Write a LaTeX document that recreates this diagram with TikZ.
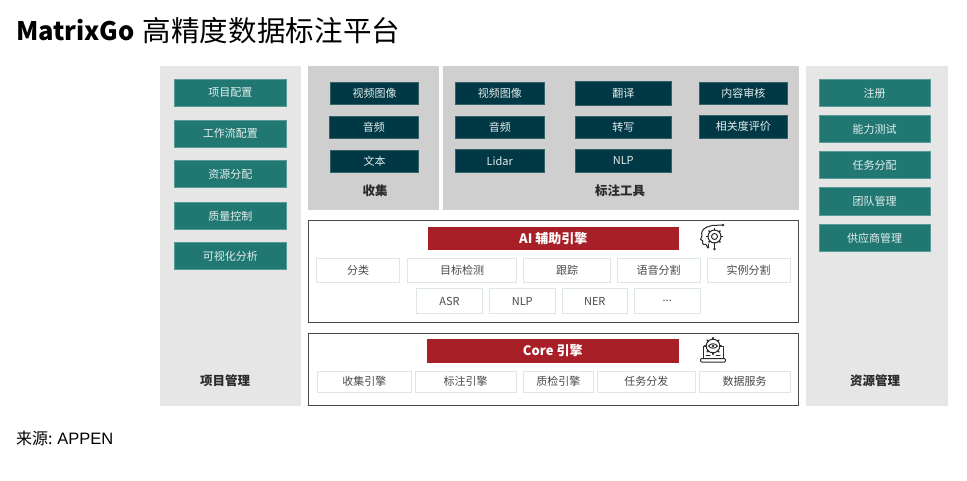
\documentclass[tikz,border=0pt]{standalone}
\usepackage{fontspec}
\setmainfont{Noto Sans CJK SC}
\newfontfamily\titlefont{Noto Sans CJK SC}[LetterSpace=0.5]
\newfontfamily\srcfont{Liberation Sans}
\definecolor{teal1}{HTML}{217873}
\definecolor{navy1}{HTML}{013845}
\definecolor{red1}{HTML}{A81F27}
\definecolor{panelA}{HTML}{E6E6E6}
\definecolor{panelB}{HTML}{CFCFCF}
\definecolor{frame1}{HTML}{4A4A4A}
\definecolor{cell1}{HTML}{DDE8E4}
\definecolor{ink1}{HTML}{2A2A2A}
\definecolor{cellink}{HTML}{4A4A4A}
\definecolor{onteal}{HTML}{E4EEED}
\tikzset{
  x=1pt,y=-1pt,
  boxbase/.style={inner sep=0pt,outer sep=0pt,align=center,font=\fontsize{11}{13}\selectfont},
  tealbox/.style={boxbase,fill=teal1,text=onteal,draw=teal1!75!white,line width=.5pt},
  navybox/.style={boxbase,fill=navy1,text=onteal,draw=navy1!80!white,line width=.5pt},
  redbox/.style={boxbase,fill=red1,text=white,font=\fontsize{13}{15}\selectfont\bfseries},
  cellbox/.style={boxbase,fill=white,draw=cell1,line width=1pt,text=cellink},
  panelL/.style={boxbase,fill=panelA},
  panelD/.style={boxbase,fill=panelB},
  framebox/.style={boxbase,fill=white,draw=frame1,line width=1pt},
  caption1/.style={inner sep=0pt,text=ink1,font=\fontsize{12.5}{14}\selectfont\bfseries},
  iconline/.style={draw=ink1,line width=1pt,fill=none,line cap=round,line join=round},
}
\newcommand{\bx}[7]{\node[#2,minimum width={(#5-#3)*1pt},minimum height={(#6-#4)*1pt}] (#1) at ({(#3+#5)/2},{(#4+#6)/2}) {#7};}
\begin{document}
\begin{tikzpicture}
\useasboundingbox (0,0) rectangle (967,481);
\fill[white] (0,0) rectangle (967,481);
% title
\node[anchor=base west,inner sep=0pt,font=\fontsize{25.5}{30}\selectfont\bfseries] (ttlA) at (16,41) {MatrixGo};
\node[anchor=base west,inner sep=0pt,font=\fontsize{28.5}{30}\titlefont] (ttlB) at (142.5,41.5) {高精度数据标注平台};
% panels
\bx{pL}{panelL}{160}{66}{301}{406}{}
\bx{pC}{panelD}{308}{66}{439}{210}{}
\bx{pT}{panelD}{443}{66}{799}{210}{}
\bx{pR}{panelL}{806}{66}{948}{406}{}
% left column
\bx{l1}{tealbox}{174.5}{79.5}{286}{106.5}{项目配置}
\bx{l2}{tealbox}{174.5}{120}{286}{147}{工作流配置}
\bx{l3}{tealbox}{174.5}{160.5}{286}{187.5}{资源分配}
\bx{l4}{tealbox}{174.5}{202.5}{286}{229.5}{质量控制}
\bx{l5}{tealbox}{174.5}{242.5}{286}{269.5}{可视化分析}
\node[caption1] (capL) at (225,380.5) {项目管理};
% collect
\bx{c1}{navybox}{330.5}{82}{418.5}{104}{视频图像}
\bx{c2}{navybox}{329.5}{116.5}{418}{138}{音频}
\bx{c3}{navybox}{330.5}{150.5}{418.5}{172}{文本}
\node[caption1] (capC) at (375,190.5) {收集};
% tools
\bx{t1}{navybox}{455.5}{82}{544}{104}{视频图像}
\bx{t2}{navybox}{455.5}{116}{544}{138}{音频}
\bx{t3}{navybox}{455.5}{149.5}{544}{172}{Lidar}
\bx{t4}{navybox}{575.5}{81.5}{671}{105}{翻译}
\bx{t5}{navybox}{575.5}{116.5}{671}{138}{转写}
\bx{t6}{navybox}{575.5}{149.5}{671}{172}{NLP}
\bx{t7}{navybox}{699}{82}{787.5}{104.5}{内容审核}
\bx{t8}{navybox}{699}{115.5}{787.5}{138}{相关度评价}
\node[caption1] (capT) at (620,190.5) {标注工具};
% right column
\bx{r1}{tealbox}{819}{79.5}{930}{106.5}{注册}
\bx{r2}{tealbox}{819}{115.5}{930}{142.5}{能力测试}
\bx{r3}{tealbox}{819}{151.5}{930}{178.5}{任务分配}
\bx{r4}{tealbox}{819}{187.5}{930}{215}{团队管理}
\bx{r5}{tealbox}{819}{224.5}{930}{251.5}{供应商管理}
\node[caption1] (capR) at (875,380.5) {资源管理};
% AI engine
\bx{ai}{framebox}{308}{221}{798.5}{322.5}{}
\bx{aiT}{redbox}{427.5}{227}{679}{250.5}{AI 辅助引擎}
\bx{a1}{cellbox}{316.5}{258.5}{399.5}{283}{分类}
\bx{a2}{cellbox}{407.5}{258.5}{516.5}{283}{目标检测}
\bx{a3}{cellbox}{523.5}{258.5}{610.5}{283}{跟踪}
\bx{a4}{cellbox}{617}{258.5}{700}{283}{语音分割}
\bx{a5}{cellbox}{707}{258.5}{790}{283}{实例分割}
\bx{a6}{cellbox}{416.5}{289}{482.5}{313.5}{ASR}
\bx{a7}{cellbox}{489.5}{289}{555}{313.5}{NLP}
\bx{a8}{cellbox}{562}{289}{627.5}{313.5}{NER}
\bx{a9}{cellbox}{634.5}{288.5}{700}{313.5}{...}
% Core engine
\bx{co}{framebox}{308}{333.5}{798.5}{405}{}
\bx{coT}{redbox}{426.5}{339}{679}{363}{Core 引擎}
\bx{k1}{cellbox}{317.5}{371}{411}{392}{收集引擎}
\bx{k2}{cellbox}{415}{371}{516}{392}{标注引擎}
\bx{k3}{cellbox}{523}{371}{593.5}{392}{质检引擎}
\bx{k4}{cellbox}{597.5}{371}{695}{392}{任务分发}
\bx{k5}{cellbox}{699}{371}{790}{392}{数据服务}
% source
\node[anchor=base west,inner sep=0pt,font=\fontsize{16}{18}\selectfont] (src) at (16,444) {来源: {\srcfont\fontsize{16.5}{18}\selectfont APPEN}};
% icon: head with gear
\begin{scope}[iconline]
  \draw (707,227) .. controls (702,229) and (701,233) .. (702,236) -- (700.5,239.5) -- (702.5,240.5)
        -- (702.5,243) .. controls (702.5,244.5) and (704,245) .. (706,244.5) -- (708,248);
  \draw (707,227) -- (712,225.5);
  \draw (714.5,236.5) circle[radius=6.5];
  \draw (714.5,236.5) circle[radius=3];
  \foreach \a in {0,45,...,315} \draw[line width=1.5pt] ([shift={(\a:6.5)}]714.5,236.5) -- ([shift={(\a:8)}]714.5,236.5);
  \draw (712,225.5) -- (723,225);
  \draw (714.5,244.5) -- (714.5,249);
  \draw (708,244) -- (708,246);
  \fill[ink1] (723,225) circle[radius=1.3] (714.5,249) circle[radius=1.3] (708,247) circle[radius=1.3];
\end{scope}
% icon: laptop with gear
\begin{scope}[iconline]
  \draw (704,346) -- (703,346) -- (703,358) -- (723,358) -- (723,346) -- (722,346);
  \draw[rounded corners=1pt] (700.5,358.5) -- (725.5,358.5) -- (725.5,362) -- (700.5,362) -- cycle;
  \draw (713,346) circle[radius=6.8];
  \foreach \a in {0,45,...,315} \draw[line width=1.6pt] ([shift={(\a:6.8)}]713,346) -- ([shift={(\a:8.2)}]713,346);
  \draw (708.5,346) .. controls (711,343) and (715,343) .. (717.5,346) .. controls (715,349) and (711,349) .. (708.5,346) -- cycle;
  \fill[ink1] (713,346) circle[radius=1.4];
  \draw (706,355) -- (710,355) (716,355) -- (720,355);
\end{scope}
\end{tikzpicture}
\end{document}
